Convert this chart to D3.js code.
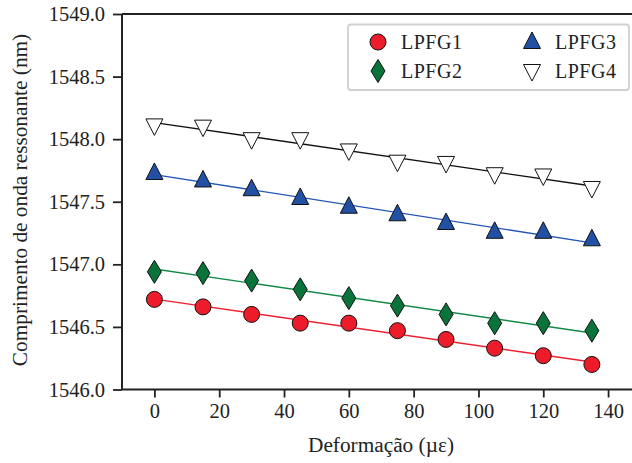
<!DOCTYPE html>
<html><head><meta charset="utf-8">
<script src="https://cdn.jsdelivr.net/npm/d3@7"></script>
</head><body style="margin:0"><svg id="c" width="632" height="463" font-family="Liberation Serif"></svg>
<script>
const strain = [0, 15, 30, 45, 60, 75, 90, 105, 120, 135];
const lpfg1 = [1546.72, 1546.66, 1546.60, 1546.53, 1546.53, 1546.47, 1546.40, 1546.33, 1546.27, 1546.20];
const lpfg2 = [1546.94, 1546.93, 1546.87, 1546.80, 1546.73, 1546.67, 1546.60, 1546.53, 1546.53, 1546.47];
const lpfg3 = [1547.73, 1547.67, 1547.60, 1547.53, 1547.46, 1547.40, 1547.33, 1547.26, 1547.26, 1547.20];
const lpfg4 = [1548.11, 1548.10, 1548.00, 1548.00, 1547.91, 1547.82, 1547.81, 1547.72, 1547.71, 1547.61];
const seriesNames = ["LPFG1", "LPFG2", "LPFG3", "LPFG4"];
const xTicks = [0, 20, 40, 60, 80, 100, 120, 140];
const yTicks = [1546.0, 1546.5, 1547.0, 1547.5, 1548.0, 1548.5, 1549.0];

const styles = [
  {fill:"#ec1c2a", line:"#ec2030", sym:"circle"},
  {fill:"#08743a", line:"#138a48", sym:"diamond"},
  {fill:"#2150a5", line:"#2356b5", sym:"up"},
  {fill:"#ffffff", line:"#111111", sym:"down"}
];
const data = [lpfg1, lpfg2, lpfg3, lpfg4];

const svg = d3.select("#c");
const L = 122, R = 634, T = 14, B = 389.5;
const x = d3.scaleLinear().domain([-10, 148]).range([L, R]);
const y = d3.scaleLinear().domain([1546, 1549]).range([B, T]);

function symPath(s){
  if(s==="circle") return d3.symbol().type(d3.symbolCircle).size(Math.PI*8*8)();
  if(s==="diamond") return "M0,-11.5L7,0L0,11.5L-7,0Z";
  if(s==="up") return "M0,-10L8.5,6.5L-8.5,6.5Z";
  return "M0,10L8.5,-6.5L-8.5,-6.5Z";
}

// axis titles
svg.append("text").attr("x",381).attr("y",452).attr("text-anchor","middle").attr("font-family","Liberation Serif").attr("font-size",21.3).attr("fill","#222").text("Deformação (µε)");
svg.append("text").attr("transform",`translate(27,200) rotate(-90)`).attr("text-anchor","middle").attr("font-family","Liberation Serif").attr("font-size",21.3).attr("fill","#222").text("Comprimento de onda ressonante (nm)");

// fitted lines
data.forEach((vals,i)=>{
  const n = strain.length;
  const mx = d3.mean(strain), my = d3.mean(vals);
  let sxy=0,sxx=0;
  for(let k=0;k<n;k++){sxy+=(strain[k]-mx)*(vals[k]-my);sxx+=(strain[k]-mx)**2;}
  const b = sxy/sxx, a = my-b*mx;
  const x0 = strain[0], x1 = strain[n-1];
  svg.append("line").attr("x1",x(x0)).attr("y1",y(a+b*x0)).attr("x2",x(x1)).attr("y2",y(a+b*x1))
    .attr("stroke",styles[i].line).attr("stroke-width",1.4);
});

data.forEach((vals,i)=>{
  svg.append("g").selectAll("path").data(vals).join("path")
    .attr("transform",(d,k)=>`translate(${x(strain[k])},${y(d)})`)
    .attr("d",symPath(styles[i].sym))
    .attr("fill",styles[i].fill).attr("stroke","#111").attr("stroke-width",1);
});

const xa = svg.append("g").attr("transform",`translate(0,${B})`)
  .call(d3.axisBottom(x).tickValues(xTicks).tickSize(8).tickPadding(6).tickFormat(d3.format("d")));
const ya = svg.append("g").attr("transform",`translate(${L},0)`)
  .call(d3.axisLeft(y).tickValues(yTicks).tickSize(9).tickPadding(8).tickFormat(d3.format(".1f")));
[xa,ya].forEach(g=>{
  g.attr("font-family","Liberation Serif").attr("font-size",20.5);
  g.select(".domain").remove();
  g.selectAll(".tick line").attr("stroke","#222").attr("stroke-width",1.8);
  g.selectAll(".tick text").attr("font-family","Liberation Serif").attr("font-size",20.5).attr("fill","#222");
});
svg.append("line").attr("x1",L).attr("x2",R).attr("y1",B).attr("y2",B).attr("stroke","#222").attr("stroke-width",2);
svg.append("line").attr("x1",L).attr("x2",R).attr("y1",T).attr("y2",T).attr("stroke","#222").attr("stroke-width",2);
svg.append("line").attr("x1",L).attr("x2",L).attr("y1",T).attr("y2",B).attr("stroke","#222").attr("stroke-width",2);

const lg = svg.append("g");
lg.append("rect").attr("x",348).attr("y",24.5).attr("width",281).attr("height",65.5).attr("rx",3)
  .attr("fill","#fff").attr("stroke","#d0d0d0").attr("stroke-width",1.8);
const pos = [[378,42],[378,71],[532,42],[532,71]];
seriesNames.forEach((nm,i)=>{
  lg.append("path").attr("transform",`translate(${pos[i][0]},${pos[i][1]})`).attr("d",symPath(styles[i].sym))
    .attr("fill",styles[i].fill).attr("stroke","#111").attr("stroke-width",1);
  lg.append("text").attr("x",pos[i][0]+23).attr("y",pos[i][1]+7).attr("font-family","Liberation Serif").attr("font-size",20).attr("letter-spacing",0.5).attr("fill","#222").text(nm);
});
</script></body></html>
